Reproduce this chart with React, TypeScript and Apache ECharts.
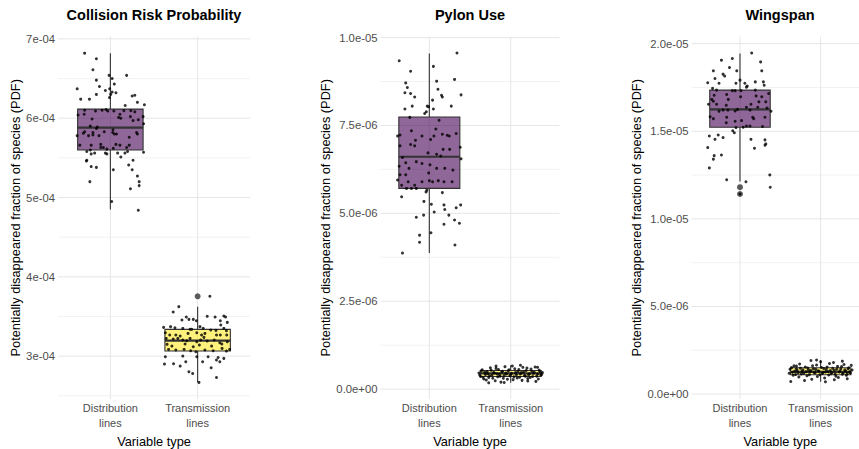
import React, { useEffect, useRef } from "react";
import * as echarts from "echarts";

const FONT = '"Liberation Sans", Arial, Helvetica, sans-serif';

const categories = ["Distribution\nlines", "Transmission\nlines"];
const panelTitles = ["Collision Risk Probability", "Pylon Use", "Wingspan"];
const yAxisTitle = "Potentially disappeared fraction of species (PDF)";
const xAxisTitle = "Variable type";

// value units of each panel
const crpUnit = 1e-4;
const pylonUnit = 1e-6;
const wingUnit = 1e-6;

// tick values (in panel units) and labels
const crpTicks = [3, 4, 5, 6, 7];
const crpTickLabels = ["3e-04", "4e-04", "5e-04", "6e-04", "7e-04"];
const crpMinor = [2.5, 3.5, 4.5, 5.5, 6.5];
const pylonTicks = [0, 2.5, 5, 7.5, 10];
const pylonTickLabels = ["0.0e+00", "2.5e-06", "5.0e-06", "7.5e-06", "1.0e-05"];
const pylonMinor = [1.25, 3.75, 6.25, 8.75];
const wingTicks = [0, 5, 10, 15, 20];
const wingTickLabels = ["0.0e+00", "5.0e-06", "1.0e-05", "1.5e-05", "2.0e-05"];
const wingMinor = [2.5, 7.5, 12.5, 17.5];

// box stats: [lower whisker, Q1, median, Q3, upper whisker] (panel units)
const crpBoxDist = [4.85, 5.6, 5.88, 6.115, 6.82];
const crpBoxTrans = [2.67, 3.065, 3.195, 3.338, 3.624];
const crpOutliers = [[2, 3.755]];
const pylonBoxDist = [3.87, 5.71, 6.61, 7.74, 9.55];
const pylonBoxTrans = [0.18, 0.36, 0.45, 0.53, 0.68];
const pylonOutliers: number[][] = [];
const wingBoxDist = [12.13, 15.23, 16.25, 17.35, 19.44];
const wingBoxTrans = [0.7, 1.1, 1.27, 1.5, 1.95];
const wingOutliers = [[1, 11.81], [1, 11.42]];

// jittered observations: [horizontal jitter, value] (panel units)
const crpDistPoints = [
  [-0.295, 6.82], [-0.16, 6.75], [-0.2, 6.61], [-0.16, 6.48], [-0.125, 6.4], [-0.38, 6.37], [-0.057, 6.35], [-0.015, 6.54],
  [0.02, 6.5], [0.045, 6.43], [0.186, 6.54], [-0.008, 6.37], [0.02, 6.33], [0.064, 6.32], [0.004, 6.3], [-0.01, 6.26],
  [-0.16, 6.3], [-0.34, 6.24], [-0.24, 6.24], [0.25, 6.28], [0.28, 6.29], [0.31, 6.2], [0.39, 6.17], [0.17, 6.16],
  [0.155, 6.095], [0.235, 6.095], [0.28, 6.08], [-0.295, 6.1], [-0.17, 6.09], [-0.095, 6.1], [-0.05, 6.11], [-0.03, 6.09],
  [0.04, 6.09], [0.11, 6.05], [-0.37, 6.04], [-0.3, 6.05], [-0.21, 5.99], [0.095, 6.01], [0.12, 6.0], [0.23, 6.02],
  [0.375, 6.02], [0.32, 5.98], [0.38, 5.93], [0.26, 5.97], [-0.23, 5.9], [-0.15, 5.89], [-0.16, 5.87], [0.03, 5.855],
  [-0.295, 5.83], [-0.31, 5.81], [-0.2, 5.82], [-0.07, 5.83], [0.027, 5.82], [0.045, 5.8], [0.07, 5.8], [0.3, 5.82],
  [0.31, 5.8], [-0.38, 5.78], [-0.25, 5.78], [-0.13, 5.78], [-0.2, 5.79], [0.216, 5.76], [-0.35, 5.66], [-0.22, 5.66],
  [-0.11, 5.67], [0.064, 5.67], [0.11, 5.66], [0.216, 5.66], [-0.11, 5.63], [-0.08, 5.63], [-0.04, 5.61], [0.034, 5.62],
  [0.186, 5.63], [-0.23, 5.6], [-0.27, 5.58], [-0.18, 5.56], [-0.22, 5.55], [-0.057, 5.56], [-0.04, 5.55], [0.083, 5.56],
  [0.167, 5.56], [0.197, 5.58], [0.38, 5.57], [0.12, 5.51], [-0.27, 5.47], [-0.275, 5.46], [0.26, 5.47], [0.21, 5.41],
  [0.25, 5.35], [-0.22, 5.39], [-0.16, 5.38], [0.034, 5.35], [0.31, 5.27], [0.33, 5.2], [0.33, 5.15], [-0.235, 5.2],
  [0.23, 5.11], [0.015, 4.95], [0.32, 4.84],
];
const crpTransPoints = [
  [0.14, 3.755], [-0.216, 3.624], [-0.28, 3.557], [0.11, 3.502], [0.2, 3.494], [0.3, 3.506], [0.32, 3.494], [-0.13, 3.494],
  [-0.1, 3.464], [-0.05, 3.464], [-0.015, 3.447], [0.26, 3.447], [0.34, 3.426], [0.265, 3.393], [-0.31, 3.372], [-0.26, 3.359],
  [-0.17, 3.35], [-0.087, 3.338], [-0.068, 3.338], [0.064, 3.35], [0.15, 3.33], [0.21, 3.325], [0.3, 3.35], [0.33, 3.321],
  [-0.39, 3.363], [-0.37, 3.296], [-0.32, 3.266], [-0.25, 3.266], [-0.2, 3.254], [-0.11, 3.287], [-0.01, 3.296], [0.045, 3.266],
  [0.083, 3.287], [0.216, 3.266], [0.26, 3.266], [0.333, 3.266], [-0.36, 3.224], [-0.28, 3.216], [-0.227, 3.224], [-0.17, 3.203],
  [-0.125, 3.195], [-0.087, 3.224], [-0.01, 3.182], [0.034, 3.203], [0.11, 3.191], [0.19, 3.203], [0.254, 3.17], [0.34, 3.182],
  [-0.35, 3.149], [-0.295, 3.127], [-0.144, 3.153], [-0.05, 3.119], [0.02, 3.14], [0.16, 3.127], [0.277, 3.153], [0.367, 3.085],
  [-0.333, 3.085], [-0.25, 3.077], [-0.155, 3.085], [-0.08, 3.068], [-0.02, 3.056], [0.083, 3.077], [0.178, 3.068], [0.28, 3.098],
  [0.33, 3.064], [-0.37, 2.993], [-0.17, 3.001], [-0.01, 2.993], [0.12, 2.993], [0.235, 2.984], [0.3, 2.972], [-0.38, 2.9],
  [-0.2, 2.875], [-0.136, 2.93], [0.057, 2.93], [0.155, 2.854], [0.216, 2.951], [0.254, 2.93], [-0.1, 2.803], [-0.057, 2.782],
  [0.216, 2.732], [0.015, 2.669], [-0.276, 2.905], [-0.18, 3.456], [0.027, 3.372], [0.072, 3.237],
];
const pylonDistPoints = [
  [-0.37, 9.34], [-0.23, 9.04], [0.05, 9.18], [0.34, 9.56], [-0.29, 8.71], [-0.27, 8.58], [0.09, 8.76], [0.31, 8.81],
  [-0.3, 8.43], [-0.23, 8.41], [-0.18, 8.31], [0.106, 8.53], [0.15, 8.36], [0.16, 8.31], [0.39, 8.37], [0.04, 8.22],
  [-0.3, 7.97], [-0.21, 8.05], [-0.025, 8.05], [-0.008, 8.03], [0.05, 7.97], [0.27, 8.05], [-0.057, 7.84], [-0.037, 7.89],
  [-0.24, 7.73], [0.12, 7.65], [-0.22, 7.35], [0.08, 7.4], [-0.39, 7.2], [-0.36, 7.23], [-0.09, 7.2], [0.016, 7.1],
  [0.057, 7.2], [0.16, 7.25], [0.22, 7.22], [0.245, 7.2], [0.33, 7.27], [-0.36, 6.92], [-0.23, 6.96], [-0.18, 6.92],
  [-0.17, 7.08], [0.17, 6.82], [0.25, 6.82], [0.38, 6.88], [-0.33, 6.59], [-0.016, 6.72], [0.09, 6.68], [0.14, 6.63],
  [0.39, 6.55], [-0.29, 6.44], [-0.16, 6.47], [-0.09, 6.42], [0.008, 6.38], [-0.37, 6.34], [-0.25, 6.28], [0.09, 6.28],
  [0.29, 6.23], [-0.36, 6.1], [-0.29, 6.1], [-0.008, 6.15], [0.19, 6.28], [-0.39, 5.95], [-0.26, 5.9], [-0.18, 5.8],
  [-0.09, 5.9], [0.0, 5.93], [0.04, 5.9], [0.11, 5.93], [0.18, 5.9], [0.28, 5.9], [-0.34, 5.8], [-0.28, 5.71],
  [-0.22, 5.71], [-0.16, 5.71], [-0.03, 5.66], [-0.04, 5.61], [0.16, 5.59], [-0.34, 5.47], [-0.066, 5.34], [0.025, 5.26],
  [0.18, 5.24], [0.19, 5.11], [0.33, 5.16], [0.385, 5.24], [0.06, 5.04], [0.24, 4.95], [-0.16, 4.89], [-0.07, 4.95],
  [0.18, 4.69], [0.37, 4.72], [0.31, 4.81], [0.02, 4.45], [-0.12, 4.38], [-0.12, 4.18], [0.315, 4.1], [-0.33, 3.87],
];
const pylonTransPoints = [
  [-0.39, 0.46], [-0.37, 0.36], [-0.35, 0.55], [-0.33, 0.29], [-0.31, 0.42], [-0.29, 0.5], [-0.27, 0.33], [-0.25, 0.61],
  [-0.23, 0.4], [-0.21, 0.47], [-0.19, 0.24], [-0.17, 0.44], [-0.15, 0.56], [-0.13, 0.37], [-0.11, 0.49], [-0.09, 0.31],
  [-0.07, 0.64], [-0.05, 0.43], [-0.03, 0.52], [-0.01, 0.38], [0.01, 0.45], [0.03, 0.27], [0.05, 0.58], [0.07, 0.41],
  [0.09, 0.5], [0.11, 0.34], [0.13, 0.47], [0.15, 0.62], [0.17, 0.39], [0.19, 0.53], [0.21, 0.3], [0.23, 0.44],
  [0.25, 0.57], [0.27, 0.36], [0.29, 0.48], [0.31, 0.22], [0.33, 0.43], [0.35, 0.54], [0.37, 0.4], [0.39, 0.47],
  [-0.38, 0.4], [-0.36, 0.52], [-0.34, 0.34], [-0.32, 0.48], [-0.3, 0.26], [-0.28, 0.44], [-0.26, 0.38], [-0.24, 0.54],
  [-0.22, 0.31], [-0.2, 0.46], [-0.18, 0.59], [-0.16, 0.35], [-0.14, 0.42], [-0.12, 0.2], [-0.1, 0.51], [-0.08, 0.39],
  [-0.06, 0.46], [-0.04, 0.28], [-0.02, 0.55], [0.0, 0.41], [0.02, 0.66], [0.04, 0.35], [0.06, 0.47], [0.08, 0.32],
  [0.1, 0.56], [0.12, 0.43], [0.14, 0.25], [0.16, 0.49], [0.18, 0.37], [0.2, 0.6], [0.22, 0.41], [0.24, 0.33],
  [0.26, 0.51], [0.28, 0.45], [0.3, 0.63], [0.32, 0.37], [0.34, 0.29], [0.36, 0.5], [0.38, 0.42], [-0.27, 0.18],
  [0.12, 0.68], [-0.18, 0.66], [0.33, 0.62], [-0.08, 0.19], [0.21, 0.23],
];
const wingDistPoints = [
  [0.145, 19.47], [-0.23, 19.06], [-0.095, 19.15], [0.256, 18.96], [-0.13, 18.64], [-0.33, 18.45], [-0.04, 18.45], [0.27, 18.45],
  [-0.21, 18.26], [-0.31, 18.01], [-0.19, 18.15], [0.0, 17.92], [-0.4, 17.77], [-0.26, 17.74], [-0.05, 17.74], [0.06, 17.74],
  [0.19, 17.82], [0.29, 17.82], [0.3, 17.63], [0.09, 17.58], [0.08, 17.52], [-0.34, 17.45], [-0.29, 17.35], [-0.095, 17.32],
  [-0.06, 17.32], [0.012, 17.32], [0.19, 17.35], [0.355, 17.16], [-0.165, 17.1], [-0.32, 17.06], [0.27, 16.97], [0.2, 17.02],
  [0.008, 16.97], [-0.35, 16.82], [-0.33, 16.71], [-0.39, 16.54], [-0.29, 16.54], [-0.145, 16.82], [-0.17, 16.48], [0.136, 16.54],
  [0.235, 16.68], [0.32, 16.68], [0.08, 16.37], [-0.21, 16.21], [-0.26, 16.14], [-0.15, 16.21], [-0.06, 16.16], [-0.03, 16.25],
  [0.124, 16.21], [0.22, 16.37], [0.335, 16.33], [0.385, 16.14], [-0.37, 15.83], [-0.33, 15.72], [-0.165, 15.8], [0.157, 15.8],
  [0.17, 15.72], [0.31, 15.8], [-0.06, 15.57], [0.02, 15.61], [-0.17, 15.49], [0.08, 15.3], [-0.05, 15.21], [0.04, 15.23],
  [0.124, 15.3], [0.28, 15.27], [-0.07, 14.92], [-0.09, 15.03], [-0.38, 14.73], [-0.31, 14.54], [-0.27, 14.79], [-0.21, 14.64],
  [0.136, 14.54], [0.31, 14.51], [0.32, 14.28], [0.31, 14.2], [-0.4, 14.07], [0.18, 14.03], [-0.32, 13.61], [-0.23, 13.65],
  [-0.33, 13.41], [-0.38, 12.91], [-0.165, 12.23], [0.074, 12.12], [0.37, 12.51], [0.375, 11.81], [0.0, 11.42],
];
const wingTransPoints = [
  [-0.38, 1.42], [-0.35, 1.25], [-0.33, 1.61], [-0.31, 1.12], [-0.29, 1.35], [-0.27, 0.98], [-0.25, 1.48], [-0.23, 1.3],
  [-0.21, 1.18], [-0.19, 1.55], [-0.17, 1.05], [-0.15, 1.38], [-0.13, 1.27], [-0.11, 0.85], [-0.09, 1.45], [-0.07, 1.21],
  [-0.05, 1.66], [-0.03, 1.33], [-0.01, 1.1], [0.01, 1.52], [0.03, 1.24], [0.05, 0.92], [0.07, 1.4], [0.09, 1.29],
  [0.11, 1.75], [0.13, 1.16], [0.15, 1.47], [0.17, 1.36], [0.19, 1.02], [0.21, 1.58], [0.23, 1.26], [0.25, 1.43],
  [0.27, 1.13], [0.29, 1.69], [0.31, 1.31], [0.33, 0.88], [0.35, 1.5], [0.37, 1.2], [0.39, 1.37], [-0.39, 1.19],
  [-0.36, 1.51], [-0.34, 1.08], [-0.32, 1.32], [-0.3, 1.44], [-0.28, 1.22], [-0.26, 1.72], [-0.24, 1.15], [-0.22, 1.39],
  [-0.2, 0.78], [-0.18, 1.28], [-0.16, 1.49], [-0.14, 1.11], [-0.12, 1.34], [-0.1, 1.62], [-0.08, 1.23], [-0.06, 1.41],
  [-0.04, 1.0], [-0.02, 1.3], [0.0, 1.85], [0.02, 1.17], [0.04, 1.46], [0.06, 1.26], [0.08, 1.54], [0.1, 1.09],
  [0.12, 1.35], [0.14, 1.23], [0.16, 1.8], [0.18, 1.14], [0.2, 1.42], [0.22, 0.95], [0.24, 1.31], [0.26, 1.57],
  [0.28, 1.2], [0.3, 1.38], [0.32, 1.07], [0.34, 1.45], [0.36, 1.27], [0.38, 1.64], [-0.37, 0.72], [-0.12, 1.92],
  [0.06, 0.7], [0.27, 1.88], [-0.3, 1.6], [0.17, 0.82], [-0.05, 1.95], [0.33, 1.18],
];

const BOX_COLORS = ["rgba(68,1,84,0.6)", "rgba(253,231,37,0.6)"];

type PanelDef = {
  title: string;
  unit: number;
  yMin: number;
  yMax: number;
  ticks: number[];
  tickLabels: string[];
  minor: number[];
  boxDist: number[];
  boxTrans: number[];
  outliers: number[][];
  distPoints: number[][];
  transPoints: number[][];
  left: number;
  right: number;
  xMax: number;
  nameGap: number;
  center: number;
};

const panels: PanelDef[] = [
  {
    title: panelTitles[0], unit: crpUnit, yMin: 2.46, yMax: 7.03, ticks: crpTicks, tickLabels: crpTickLabels, minor: crpMinor,
    boxDist: crpBoxDist, boxTrans: crpBoxTrans, outliers: crpOutliers, distPoints: crpDistPoints, transPoints: crpTransPoints,
    left: 58, right: 609, xMax: 2.6, nameGap: 36, center: 154,
  },
  {
    title: panelTitles[1], unit: pylonUnit, yMin: -0.28, yMax: 10.03, ticks: pylonTicks, tickLabels: pylonTickLabels, minor: pylonMinor,
    boxDist: pylonBoxDist, boxTrans: pylonBoxTrans, outliers: pylonOutliers, distPoints: pylonDistPoints, transPoints: pylonTransPoints,
    left: 380.5, right: 299.5, xMax: 2.6, nameGap: 47, center: 470,
  },
  {
    title: panelTitles[2], unit: wingUnit, yMin: -0.28, yMax: 20.41, ticks: wingTicks, tickLabels: wingTickLabels, minor: wingMinor,
    boxDist: wingBoxDist, boxTrans: wingBoxTrans, outliers: wingOutliers, distPoints: wingDistPoints, transPoints: wingTransPoints,
    left: 691.6, right: -10, xMax: 2.6, nameGap: 49, center: 780,
  },
];

function buildOption() {
  const grid: any[] = [];
  const xAxis: any[] = [];
  const yAxis: any[] = [];
  const series: any[] = [];
  const title: any[] = [];

  panels.forEach((p, i) => {
    const u = p.unit;
    grid.push({ left: p.left, right: p.right, top: 36.5, bottom: 50, containLabel: false, outerBoundsMode: "none" });
    title.push({
      text: p.title, left: p.center, top: 7, textAlign: "center", padding: 0,
      textStyle: { fontFamily: FONT, fontSize: 14.5, fontWeight: "bold", color: "#000" },
    });
    xAxis.push({
      gridIndex: i, type: "value", min: 0.4, max: p.xMax,
      axisLine: { show: false }, axisTick: { show: false }, splitLine: { show: false },
      axisLabel: {
        customValues: [1, 2],
        formatter: (v: number) => (Math.abs(v - 1) < 1e-9 ? categories[0] : Math.abs(v - 2) < 1e-9 ? categories[1] : ""),
        color: "#4d4d4d", fontSize: 11, lineHeight: 15, margin: 1, fontFamily: FONT,
      },
      name: xAxisTitle, nameLocation: "middle", nameGap: 31,
      nameTextStyle: { fontFamily: FONT, fontSize: 12.8, color: "#000" },
    });
    const tickVals = p.ticks.map((t) => t * u);
    yAxis.push({
      gridIndex: i, type: "value", min: p.yMin * u, max: p.yMax * u,
      axisLine: { show: false }, axisTick: { show: false }, splitLine: { show: false },
      axisLabel: {
        customValues: tickVals,
        formatter: (v: number) => {
          const k = tickVals.findIndex((t) => Math.abs(t - v) <= Math.abs(u) * 1e-6);
          return k >= 0 ? p.tickLabels[k] : "";
        },
        color: "#4d4d4d", fontSize: 11.3, margin: 3, fontFamily: FONT,
      },
      name: yAxisTitle, nameLocation: "middle", nameGap: p.nameGap,
      nameTextStyle: { fontFamily: FONT, fontSize: 12.8, color: "#000" },
    });

    // grid lines: [value, kind] kind 0 = major horizontal, 1 = minor horizontal, 2 = vertical
    const gridData: number[][] = [
      ...p.ticks.map((t) => [t * u, 0]),
      ...p.minor.map((t) => [t * u, 1]),
      [1, 2],
      [2, 2],
    ];
    series.push({
      type: "custom", xAxisIndex: i, yAxisIndex: i, z: 1, silent: true,
      data: gridData,
      encode: { x: -1, y: -1 },
      renderItem: (params: any, api: any) => {
        const cs = params.coordSys;
        const v = api.value(0);
        const kind = api.value(1);
        if (kind === 2) {
          const x = api.coord([v, p.yMin * u])[0];
          return { type: "line", shape: { x1: x, y1: cs.y, x2: x, y2: cs.y + cs.height }, style: { stroke: "#e6e6e6", lineWidth: 1 } };
        }
        const y = api.coord([1, v])[1];
        return {
          type: "line",
          shape: { x1: cs.x, y1: y, x2: cs.x + cs.width, y2: y },
          style: { stroke: kind === 0 ? "#e6e6e6" : "#efefef", lineWidth: kind === 0 ? 1 : 0.8 },
        };
      },
    });

    // boxes
    series.push({
      type: "custom", xAxisIndex: i, yAxisIndex: i, z: 2, silent: true,
      data: [[1, ...p.boxDist].map((v, k) => (k === 0 ? v : v * u)), [2, ...p.boxTrans].map((v, k) => (k === 0 ? v : v * u))],
      encode: { x: 0, y: [1, 2, 3, 4, 5] },
      renderItem: (params: any, api: any) => {
        const x = api.value(0);
        const lo = api.coord([x, api.value(1)]);
        const q1 = api.coord([x, api.value(2)]);
        const md = api.coord([x, api.value(3)]);
        const q3 = api.coord([x, api.value(4)]);
        const hi = api.coord([x, api.value(5)]);
        const half = api.size([0.75, 0])[0] / 2;
        const stroke = "#333333";
        return {
          type: "group",
          children: [
            { type: "line", shape: { x1: hi[0], y1: hi[1], x2: q3[0], y2: q3[1] }, style: { stroke, lineWidth: 1.1 } },
            { type: "line", shape: { x1: q1[0], y1: q1[1], x2: lo[0], y2: lo[1] }, style: { stroke, lineWidth: 1.1 } },
            {
              type: "rect",
              shape: { x: q3[0] - half, y: q3[1], width: half * 2, height: q1[1] - q3[1] },
              style: { fill: BOX_COLORS[params.dataIndex], stroke, lineWidth: 1.1 },
            },
            { type: "line", shape: { x1: md[0] - half, y1: md[1], x2: md[0] + half, y2: md[1] }, style: { stroke, lineWidth: 2.2 } },
          ],
        };
      },
    });

    // outliers
    series.push({
      type: "scatter", xAxisIndex: i, yAxisIndex: i, z: 2, silent: true,
      symbolSize: 6, itemStyle: { color: "#333333" },
      data: p.outliers.map(([c, v]) => [c, v * u]),
    });

    // jittered observations
    series.push({
      type: "scatter", xAxisIndex: i, yAxisIndex: i, z: 3, silent: true,
      symbolSize: 3, itemStyle: { color: "#000000" },
      data: [
        ...p.distPoints.map(([d, v]) => [1 + d, v * u]),
        ...p.transPoints.map(([d, v]) => [2 + d, v * u]),
      ],
    });
  });

  return {
    animation: false,
    backgroundColor: "#ffffff",
    title,
    grid,
    xAxis,
    yAxis,
    series,
  };
}

export default function App() {
  const ref = useRef<HTMLDivElement>(null);
  useEffect(() => {
    if (!ref.current) return;
    const chart = echarts.init(ref.current, undefined, { renderer: "svg" });
    chart.setOption(buildOption() as any);
    return () => chart.dispose();
  }, []);
  return <div ref={ref} style={{ position: "absolute", left: 0, top: 0, width: 859, height: 449 }} />;
}
